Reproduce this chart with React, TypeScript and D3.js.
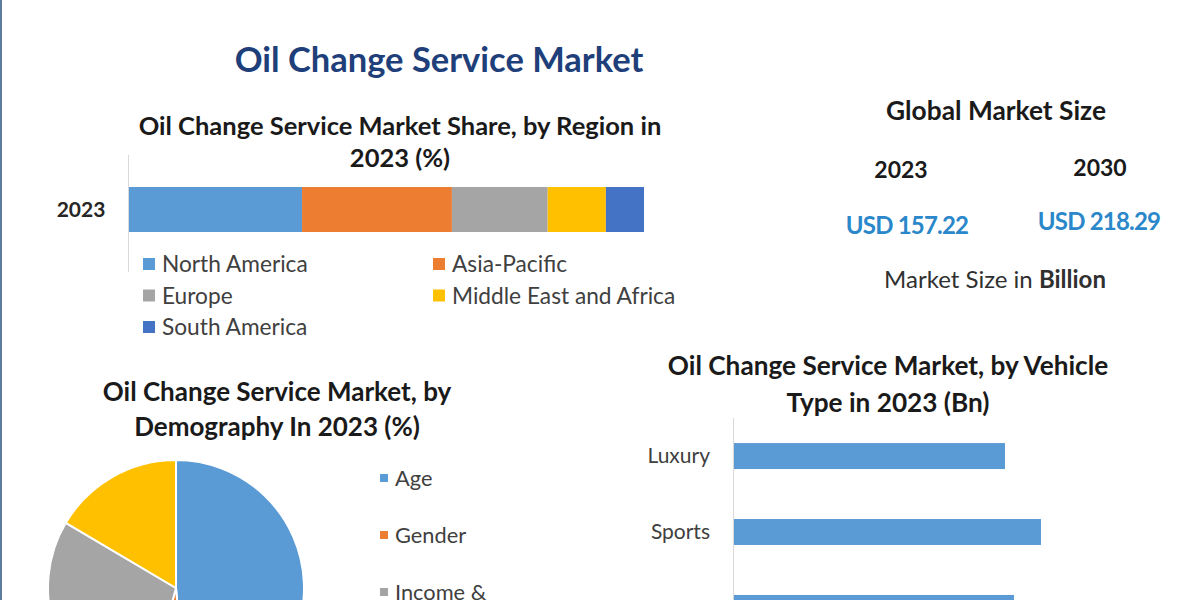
import React from "react";
import * as d3 from "d3";

const regionNames = ["North America", "Asia-Pacific", "Europe", "Middle East and Africa", "South America"];
const regionShares = [33.6, 29.1, 18.6, 11.3, 7.4];
const regionColors = ["#5b9bd5", "#ed7d31", "#a5a5a5", "#ffc000", "#4472c4"];

const demoNames = ["Age", "Gender", "Income &", "Occupation"];
const demoShares = [48.6, 5.6, 29.3, 16.5];
const demoColors = ["#5b9bd5", "#ed7d31", "#a5a5a5", "#ffc000"];

const vehicleTypes = ["Luxury", "Sports", "Passenger"];
const vehicleValues = [27.1, 30.7, 28.0];

const marketYears = ["2023", "2030"];
const marketValues = ["USD 157.22", "USD 218.29"];

const FONT = "Lato, 'Open Sans', sans-serif";

export default function App() {
  const W = 1200, H = 600;

  // stacked bar
  const xShare = d3.scaleLinear().domain([0, d3.sum(regionShares)]).range([129, 644]);
  const cum = [0, ...Array.from(d3.cumsum(regionShares))];

  // pie
  const pie = d3.pie<number>().sort(null).value((d) => d)(demoShares);
  const arc = d3.arc<d3.PieArcDatum<number>>().innerRadius(0).outerRadius(128);

  // vehicle bars
  const xVeh = d3.scaleLinear().domain([0, 10]).range([0, 100]);
  const yVeh = d3.scaleBand().domain(vehicleTypes).range([418, 646]).paddingInner(0.658).paddingOuter(0.33);

  const titleStyle = { fontFamily: FONT, fontWeight: 700 as const, fill: "#1a1a1a" };

  return (
    <svg width={W} height={H} style={{ position: "absolute", left: 0, top: 0, background: "#ffffff" }} fontFamily={FONT}>
      <rect x={0} y={0} width={W} height={H} fill="#ffffff" />
      <rect x={0} y={0} width={2} height={H} fill="#5d7d9c" />

      <text x={439} y={72} textAnchor="middle" fontSize={34.5} fontWeight={700} fill="#1f3f7a" fontFamily={FONT}>
        Oil Change Service Market
      </text>

      {/* Region share */}
      <text x={400} y={135} textAnchor="middle" fontSize={25.5} {...titleStyle}>
        Oil Change Service Market Share, by Region in
      </text>
      <text x={400} y={167} textAnchor="middle" fontSize={25.5} {...titleStyle}>
        2023 (%)
      </text>
      <line x1={128.5} x2={128.5} y1={155} y2={272} stroke="#d9d9d9" strokeWidth={1} />
      <text x={81} y={217} textAnchor="middle" fontSize={21} fontWeight={700} fill="#262626">2023</text>
      {regionShares.map((v, i) => (
        <rect key={i} x={xShare(cum[i])} y={187} width={xShare(cum[i + 1]) - xShare(cum[i])} height={45} fill={regionColors[i]} />
      ))}
      {regionNames.map((n, i) => {
        const col = i % 2, row = Math.floor(i / 2);
        const x = col === 0 ? 143 : 433;
        const y = 264 + row * 31.5;
        return (
          <g key={n}>
            <rect x={x} y={y - 6} width={12} height={12} fill={regionColors[i]} />
            <text x={x + 19} y={y + 8} fontSize={22.7} fill="#404040">{n}</text>
          </g>
        );
      })}

      {/* Global market size */}
      <text x={996} y={120} textAnchor="middle" fontSize={26.3} {...titleStyle}>Global Market Size</text>
      {marketYears.map((y, i) => (
        <g key={y}>
          <text x={i === 0 ? 901 : 1100} y={i === 0 ? 178 : 176} textAnchor="middle" fontSize={23} {...titleStyle}>{y}</text>
          <text x={i === 0 ? 907 : 1099} y={i === 0 ? 234 : 230} textAnchor="middle" fontSize={24} fontWeight={700} fill="#2a87c9" letterSpacing={-0.8}>{marketValues[i]}</text>
        </g>
      ))}
      <text x={995} y={288} textAnchor="middle" fontSize={24} fill="#303030">
        Market Size in <tspan fontWeight={700}>Billion</tspan>
      </text>

      {/* Demography pie */}
      <text x={277} y={401} textAnchor="middle" fontSize={26} {...titleStyle}>Oil Change Service Market, by</text>
      <text x={277} y={436} textAnchor="middle" fontSize={26} {...titleStyle}>Demography In 2023 (%)</text>
      <g transform="translate(176,588)">
        {pie.map((p, i) => (
          <path key={i} d={arc(p) || ""} fill={demoColors[i]} stroke="#ffffff" strokeWidth={2} />
        ))}
      </g>
      {demoNames.map((n, i) => (
        <g key={n}>
          <rect x={380} y={474 + i * 57} width={8} height={8} fill={demoColors[i]} />
          <text x={395} y={486 + i * 57} fontSize={21.8} fill="#404040">{n}</text>
        </g>
      ))}

      {/* Vehicle type bars */}
      <text x={888} y={375} textAnchor="middle" fontSize={26.2} {...titleStyle}>Oil Change Service Market, by Vehicle</text>
      <text x={888} y={412} textAnchor="middle" fontSize={26.2} {...titleStyle}>Type in 2023 (Bn)</text>
      <line x1={733.5} x2={733.5} y1={418} y2={600} stroke="#d9d9d9" strokeWidth={1} />
      {vehicleTypes.map((t, i) => (
        <g key={t}>
          <rect x={734} y={yVeh(t)!} width={xVeh(vehicleValues[i])} height={yVeh.bandwidth()} fill="#5b9bd5" />
          <text x={710} y={yVeh(t)! + yVeh.bandwidth() / 2 + 7} textAnchor="end" fontSize={21} fill="#404040">{t}</text>
        </g>
      ))}
    </svg>
  );
}
